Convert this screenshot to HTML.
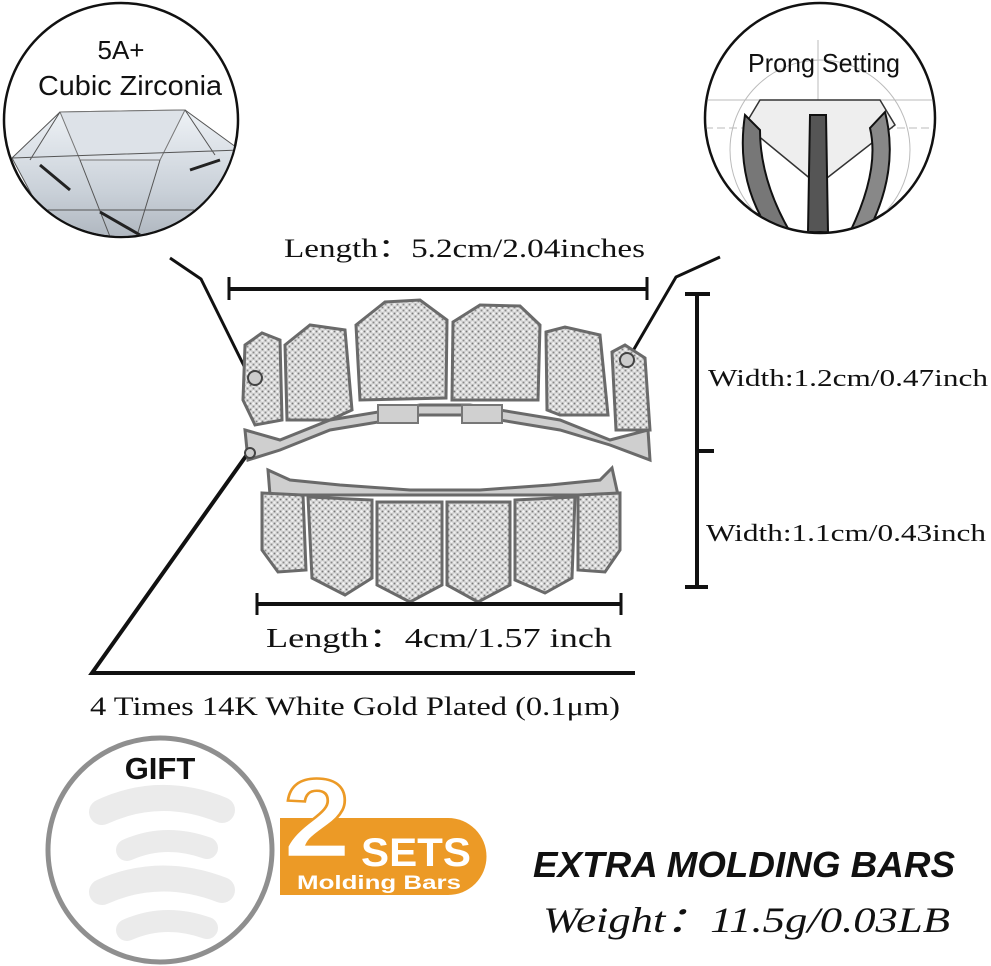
<!DOCTYPE html>
<html><head><meta charset="utf-8"><style>
html,body{margin:0;padding:0;background:#fff;}
svg{display:block;}
</style></head><body>
<svg width="991" height="966" viewBox="0 0 991 966" xmlns="http://www.w3.org/2000/svg">
<defs>
<pattern id="pv" width="6" height="6" patternUnits="userSpaceOnUse">
<rect width="6" height="6" fill="#cfcfcf"/>
<circle cx="1.5" cy="1.5" r="1.3" fill="#f6f6f6"/>
<circle cx="4.5" cy="4.5" r="1.3" fill="#eeeeee"/>
<circle cx="4.5" cy="1.5" r="0.9" fill="#7a7a7a"/>
<circle cx="1.5" cy="4.5" r="0.9" fill="#8a8a8a"/>
</pattern>
<linearGradient id="dg" x1="0" y1="0" x2="0" y2="1">
<stop offset="0" stop-color="#eef2f6"/><stop offset="0.5" stop-color="#c9d0d8"/><stop offset="1" stop-color="#9aa2ab"/>
</linearGradient>
<clipPath id="cl"><circle cx="121" cy="120" r="116"/></clipPath>
<clipPath id="cr"><circle cx="820" cy="118" r="114"/></clipPath>
</defs>

<!-- left circle -->
<circle cx="121" cy="120" r="117" fill="#fff" stroke="#111" stroke-width="2.5"/>
<g clip-path="url(#cl)">
<polygon points="12,158 60,112 185,110 240,150 205,210 125,275 40,210" fill="url(#dg)" stroke="#555" stroke-width="1"/>
<polygon points="60,112 185,110 160,160 80,160" fill="#dde2e8" stroke="#777" stroke-width="1"/>
<path d="M12,158 L240,150 M80,160 L125,275 L160,160 M40,210 L205,210 M60,112 L30,160 M185,110 L215,155" stroke="#555" stroke-width="1" fill="none"/>
<path d="M40,165 L70,190 M190,170 L220,160 M100,212 L140,235" stroke="#222" stroke-width="3"/>
</g>
<text x="121" y="59" text-anchor="middle" font-family="Liberation Sans, sans-serif" font-size="26" fill="#111">5A+</text>
<text x="130" y="95" text-anchor="middle" font-family="Liberation Sans, sans-serif" font-size="28" fill="#111" textLength="184" lengthAdjust="spacingAndGlyphs">Cubic Zirconia</text>

<!-- right circle -->
<circle cx="820" cy="118" r="115" fill="#fff" stroke="#111" stroke-width="2.5"/>
<g clip-path="url(#cr)">
<g stroke="#bbb" stroke-width="1" fill="none">
<circle cx="820" cy="150" r="90"/><line x1="705" y1="128" x2="940" y2="128" stroke-dasharray="8,4"/>
<line x1="818" y1="40" x2="818" y2="230"/><line x1="705" y1="100" x2="940" y2="100"/>
</g>
<polygon points="760,100 880,100 895,125 818,185 745,125" fill="#eee" stroke="#333" stroke-width="1.5"/>
<path d="M745,115 Q735,180 770,232 L790,232 Q760,180 760,130 Z" fill="#777" stroke="#111" stroke-width="2"/>
<path d="M810,115 L808,232 L828,232 L826,115 Z" fill="#555" stroke="#111" stroke-width="2"/>
<path d="M885,112 Q900,170 868,232 L850,232 Q880,170 870,128 Z" fill="#888" stroke="#111" stroke-width="2"/>
</g>
<text x="824" y="72" text-anchor="middle" font-family="Liberation Sans, sans-serif" font-size="26" fill="#111" textLength="152" lengthAdjust="spacingAndGlyphs">Prong Setting</text>

<!-- leaders -->
<polyline points="170,258 201,279 248,374" fill="none" stroke="#111" stroke-width="3"/>
<polyline points="720,257 676,277 630,356" fill="none" stroke="#111" stroke-width="3"/>
<polyline points="246,456 92,673 635,673" fill="none" stroke="#111" stroke-width="4"/>

<!-- top length -->
<text x="284" y="257" font-family="Liberation Serif, serif" font-size="26" fill="#111" textLength="361" lengthAdjust="spacingAndGlyphs">Length：5.2cm/2.04inches</text>
<line x1="228" y1="289" x2="648" y2="289" stroke="#111" stroke-width="4"/>
<line x1="229" y1="277" x2="229" y2="300" stroke="#111" stroke-width="3"/>
<line x1="647" y1="277" x2="647" y2="300" stroke="#111" stroke-width="3"/>

<!-- vertical -->
<line x1="697" y1="294" x2="697" y2="587" stroke="#111" stroke-width="4"/>
<line x1="685" y1="294" x2="710" y2="294" stroke="#111" stroke-width="4"/>
<line x1="697" y1="451" x2="714" y2="451" stroke="#111" stroke-width="4"/>
<line x1="685" y1="587" x2="708" y2="587" stroke="#111" stroke-width="4"/>
<text x="708" y="386" font-family="Liberation Serif, serif" font-size="24" fill="#111" textLength="280" lengthAdjust="spacingAndGlyphs">Width:1.2cm/0.47inch</text>
<text x="706" y="541" font-family="Liberation Serif, serif" font-size="24" fill="#111" textLength="280" lengthAdjust="spacingAndGlyphs">Width:1.1cm/0.43inch</text>

<!-- grillz upper -->
<g stroke="#6a6a6a" stroke-width="3" fill="url(#pv)">
<path d="M245,430 L280,440 L330,420 L420,405 L470,405 L560,420 L610,440 L648,430 L650,460 L610,445 L560,430 L470,415 L420,415 L330,430 L280,450 L248,460 Z" fill="#cfcfcf"/>
<polygon points="245,345 262,333 280,340 282,420 255,425 243,400"/>
<polygon points="285,345 310,325 345,330 352,410 330,420 287,420"/>
<polygon points="356,325 385,302 420,300 447,320 446,398 360,400"/>
<polygon points="453,322 480,305 520,306 540,325 538,400 452,400"/>
<polygon points="546,332 565,327 600,335 608,415 560,415 547,410"/>
<polygon points="612,352 625,345 645,358 650,430 616,430"/>
</g>
<rect x="378" y="405" width="40" height="18" fill="#d0d0d0" stroke="#777" stroke-width="2"/>
<rect x="462" y="405" width="40" height="18" fill="#d0d0d0" stroke="#777" stroke-width="2"/>
<circle cx="255" cy="378" r="7" fill="#ccc" stroke="#444" stroke-width="2"/>
<circle cx="627" cy="360" r="7" fill="#ccc" stroke="#444" stroke-width="2"/>
<circle cx="250" cy="453" r="5" fill="#ccc" stroke="#444" stroke-width="2"/>

<!-- grillz lower -->
<g stroke="#6a6a6a" stroke-width="3" fill="url(#pv)">
<path d="M268,470 L290,480 L340,485 L410,490 L480,490 L550,485 L600,480 L612,468 L618,495 L270,495 Z" fill="#cfcfcf"/>
<polygon points="262,493 303,495 306,570 278,572 262,550"/>
<polygon points="308,497 372,500 372,578 345,595 312,578"/>
<polygon points="377,502 442,502 442,585 410,602 377,585"/>
<polygon points="447,502 510,502 510,585 478,602 447,585"/>
<polygon points="515,500 575,497 572,578 545,593 515,580"/>
<polygon points="578,495 620,493 620,550 605,572 578,570"/>
</g>

<!-- bottom length -->
<line x1="256" y1="604" x2="622" y2="604" stroke="#111" stroke-width="4"/>
<line x1="257" y1="593" x2="257" y2="615" stroke="#111" stroke-width="3"/>
<line x1="621" y1="593" x2="621" y2="615" stroke="#111" stroke-width="3"/>
<text x="266" y="647" font-family="Liberation Serif, serif" font-size="27" fill="#111" textLength="346" lengthAdjust="spacingAndGlyphs">Length：4cm/1.57 inch</text>
<text x="90" y="715" font-family="Liberation Serif, serif" font-size="26" fill="#111" textLength="530" lengthAdjust="spacingAndGlyphs">4 Times 14K White Gold Plated (0.1μm)</text>

<!-- gift circle -->
<circle cx="160" cy="850" r="112" fill="#fff" stroke="#8f8f8f" stroke-width="5"/>
<text x="160" y="779" text-anchor="middle" font-family="Liberation Sans, sans-serif" font-weight="bold" font-size="31" fill="#111">GIFT</text>
<g stroke="#ebebeb" stroke-linecap="round" fill="none">
<path d="M102,812 Q160,785 222,810" stroke-width="26"/>
<path d="M127,850 Q165,833 207,848" stroke-width="22"/>
<path d="M102,892 Q160,866 222,890" stroke-width="26"/>
<path d="M127,930 Q165,913 207,928" stroke-width="22"/>
</g>

<!-- badge -->
<path d="M280,818 L448,818 A38,38 0 0 1 448,895 L280,895 Z" fill="#ec9a26"/>
<text x="283" y="857" font-family="Liberation Sans, sans-serif" font-weight="bold" font-size="112" fill="#fff" stroke="#ec9a26" stroke-width="2.5" textLength="68" lengthAdjust="spacingAndGlyphs">2</text>
<text x="361" y="866" font-family="Liberation Sans, sans-serif" font-weight="bold" font-size="40" fill="#fff" textLength="110" lengthAdjust="spacingAndGlyphs">SETS</text>
<text x="297" y="889" font-family="Liberation Sans, sans-serif" font-weight="bold" font-size="19" fill="#fff" textLength="164" lengthAdjust="spacingAndGlyphs">Molding Bars</text>

<text x="533" y="877" font-family="Liberation Sans, sans-serif" font-weight="bold" font-style="italic" font-size="36" fill="#111" textLength="422" lengthAdjust="spacingAndGlyphs">EXTRA MOLDING BARS</text>
<text x="543" y="932" font-family="Liberation Serif, serif" font-style="italic" font-size="36" fill="#111" textLength="407" lengthAdjust="spacingAndGlyphs">Weight：11.5g/0.03LB</text>
</svg>
</body></html>
